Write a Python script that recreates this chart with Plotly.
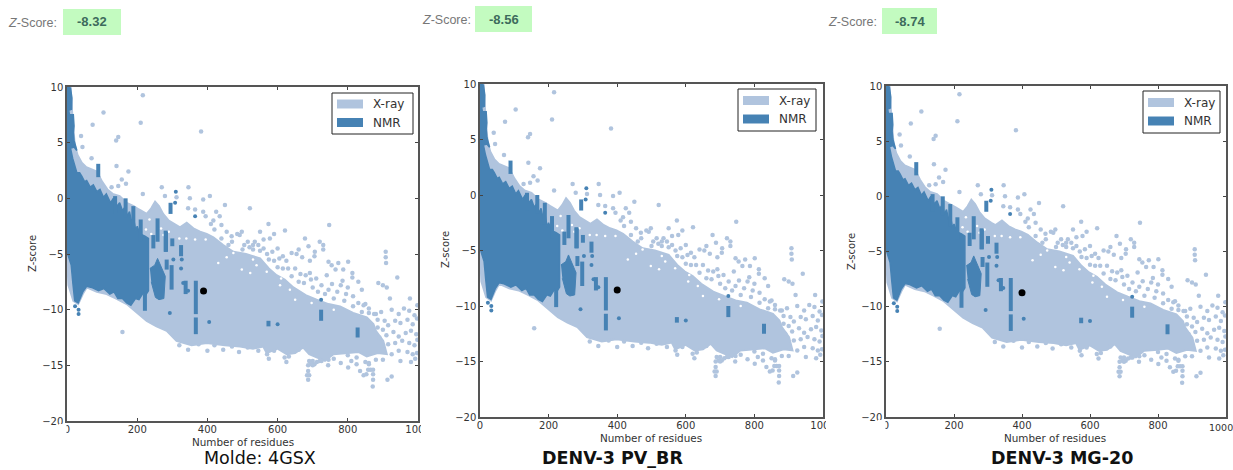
import plotly.graph_objects as go

# ---------- data ----------
XRAY_CLOUD_X = [0, 10, 14, 18, 22, 30, 42, 55, 70, 85, 100, 115, 130, 150, 170, 190, 205, 227, 240, 251, 262, 274, 290, 310,
                322, 341, 360, 379, 398, 417, 445, 474, 510, 550, 575, 597, 620, 645, 680, 711, 745, 778, 815, 854, 873,
                880, 901, 911, 885, 854, 830, 800, 759, 735, 711, 690, 673, 650, 626, 600, 569, 559, 530, 493, 450, 398, 355, 312, 284,
                255, 227, 200, 170, 140, 113, 85, 56, 45, 32, 18, 4, 0]
XRAY_CLOUD_Z = [10, 10, 8, 6, 4.8, 3.9, 3.2, 2.8, 2.6, 2.4, 1.5, 0.8, 0.4, 0.2, -0.4, -0.7, -1.0, -1.4, -0.9, -0.3, -0.7, -1.4, -2.0, -2.4,
                -2.6, -2.2, -2.7, -3.0, -3.2, -3.5, -4.2, -4.8, -5.0, -5.4, -6.3, -6.9, -7.3, -8.0, -8.7, -9.1, -9.5, -9.7, -10.3, -10.7, -11.3,
                -11.9, -12.8, -14.0, -13.9, -14.2, -13.8, -13.9, -14.0, -14.6, -14.3, -14.0, -13.4, -13.9, -14.0, -13.5, -13.9, -13.3, -13.5, -13.3, -13.2, -13.0, -13.2, -12.8, -11.9,
                -11.5, -11.0, -10.3, -9.5, -9.0, -8.6, -8.4, -8.0, -8.6, -9.5, -9.2, -7.8, -5]

NMR_CLOUD_X = [0, 10, 14, 13, 5, 7, 18, 20, 18, 20, 28, 20, 10, 16, 28, 36, 42, 50, 56, 66, 75, 85, 94, 104, 112, 124, 132, 142, 150, 158, 165, 172, 178, 184, 189, 196, 200, 208, 222, 232, 232, 224, 217, 205, 195, 182, 170, 158, 145, 134, 122, 105, 90, 70, 56, 45, 32, 22, 17, 12, 0]
NMR_CLOUD_Z = [10, 9.9, 9, 8, 7.9, 7.5, 7.5, 6.5, 5.9, 5.2, 4.3, 4.6, 4.5, 3.6, 2.3, 2.3, 2.0, 1.5, 1.6, 1.0, 1.2, 0.6, 0.8, 0.1, 0.4, -0.4, 0.0, -0.7, -0.4, -1.1, -0.8, -1.6, -1.2, -2.1, -1.7, -2.9, -2.5, -3.2, -3.4, -3.6, -8.3, -8.7, -8.5, -9.1, -9.0, -9.6, -9.4, -9.0, -9.0, -8.4, -8.6, -8.1, -8.3, -8.0, -7.9, -8.4, -9.4, -9.2, -7.7, -6, -4.8]

XRAY_POINTS_X = [216, 104, 73, 210, 382, 146, 140, 40, 44, 70, 141, 175, 156, 146, 127, 168, 270, 346, 216, 279, 407, 388, 350, 312, 450, 521,
                 345, 365, 388, 395, 425, 435, 417, 410, 420, 574, 621, 747, 498, 492, 550, 578, 590, 678, 720, 469, 485, 440, 455, 530, 535, 560,
                 908, 908, 909, 887, 900, 911, 941, 830, 813, 813, 773, 754, 801, 730, 730, 706, 688, 692, 654, 670, 692, 740, 787, 920, 977,
                 660, 640, 615, 600, 705, 745, 765, 785, 800, 840, 850,
                 880, 895, 905, 925, 945, 960, 975, 990, 998, 885, 900, 915, 935, 950, 970, 985, 997, 890, 910, 930, 945, 965, 980, 995, 915, 935, 955, 975, 990, 998, 925, 945, 970, 985, 997, 950, 980, 992,
                 687, 687, 687, 684, 690, 872, 872, 871, 865, 872, 835, 845, 853, 913, 925, 801, 825, 744, 810, 860, 858, 700, 695, 705, 720, 158,
                 320, 345, 375, 400, 420, 445, 470, 490, 515, 545, 570, 575, 590, 620, 625, 632, 660, 690, 700, 712, 725, 745, 760, 780, 800, 825, 850, 860, 880, 900,
                 440, 460, 470, 500, 520, 550, 575, 600, 615, 640, 660, 675, 700, 715, 735, 760, 790, 815, 840, 860,
                 505, 515, 530, 545, 560, 570, 585, 590, 605, 625, 630, 650, 665, 680, 695, 710, 725, 745, 755, 770, 780, 795, 815, 830, 845, 860, 875, 885]
XRAY_POINTS_Z = [9.25, 7.7, 6.6, 6.8, 6.0, 5.5, 5.2, 5.6, 4.6, 3.6, 2.9, 2.4, 1.7, 1.1, 1.0, 1.3, 1.0, 1.0, 0.4, 0.2, 0.2, -0.1, 0, 0.1, -0.6, -0.9,
                 -0.9, -1.0, -1.2, -1.6, -1.2, -1.6, -2.0, -2.3, -2.8, -2.3, -2.9, -2.4, -3.0, -3.3, -3.0, -3.6, -3.2, -3.6, -3.9, -3.4, -3.2, -2.4, -3.0, -4.2, -3.9, -3.7,
                 -4.8, -5.3, -5.8, -7.6, -7.8, -8.0, -7.1, -7.5, -6.7, -7.1, -5.8, -6.0, -5.7, -4.2, -4.6, -4.8, -4.3, -6.7, -5.0, -5.3, -5.6, -6.9, -6.4, -9.0, -9.0,
                 -4.6, -4.9, -5.2, -4.5, -5.2, -5.7, -6.4, -7.4, -8.0, -8.2, -9.5,
                 -10.4, -10.2, -11.0, -10.0, -10.4, -9.9, -10.1, -10.5, -9.6, -11.6, -11.8, -11.4, -11.0, -11.2, -10.9, -11.3, -10.8, -12.5, -12.3, -12.0, -12.4, -12.1, -11.9, -12.2, -13.1, -13.0, -12.8, -13.0, -13.2, -12.7, -14.0, -13.7, -13.8, -14.0, -13.9, -14.6, -14.7, -14.4,
                 -15.0, -15.5, -16.3, -15.9, -15.9, -15.8, -16.3, -16.9, -15.4, -15.4, -15.5, -15.9, -15.8, -16.3, -16.0, -15.2, -14.9, -15.0, -14.6, -14.9, -15.4, -14.6, -14.9, -14.9, -14.6, -12.0,
                 -13.2, -13.6, -13.1, -13.7, -13.2, -13.6, -13.3, -13.8, -13.4, -13.7, -14.0, -14.4, -13.7, -14.3, -14.7, -14.2, -13.6, -14.6, -15.0, -14.7, -14.6, -14.5, -14.4, -14.8, -14.1, -14.3, -14.7, -14.8, -14.5, -14.5,
                 -3.6, -4.2, -3.9, -4.6, -4.4, -4.7, -5.5, -6.2, -6.3, -7.0, -7.5, -7.6, -8.0, -8.4, -8.6, -9.0, -9.2, -9.7, -10.2, -10.3,
                 -4.2, -3.9, -4.6, -4.2, -4.5, -5.0, -4.8, -5.6, -5.4, -5.6, -6.3, -6.3, -6.8, -6.9, -7.3, -7.2, -7.8, -8.2, -7.7, -8.4, -7.8, -8.6, -8.8, -9.4, -9.6, -9.9, -10.4, -10.9]

HOLES_X = [225, 240, 268, 275, 235, 290, 320, 340, 365, 395, 431, 474, 498, 522, 540, 569, 607, 635, 650, 697, 455, 530, 610, 760]
HOLES_Z = [-2.8, -3.2, -2.7, -3.3, -1.9, -3.0, -3.6, -3.6, -3.7, -3.7, -5.8, -4.9, -6.4, -6.7, -6.0, -6.6, -7.8, -8.2, -9.1, -9.4, -5.3, -5.5, -7.2, -10.0]

NMR_COLUMN_X = [89, 137, 167, 189, 210, 258, 295, 281, 246, 282, 300, 325, 284, 298, 222, 367, 367, 574, 724, 828, 338]
NMR_COLUMN_LO = [1.9, -1.4, -1.7, -2.7, -3.9, -3.9, -1.4, -4.8, -4.5, -4.8, -4.3, -5.2, -6.4, -8.2, -10.1, -10.4, -12.2, -11.5, -11.0, -12.5, -8.6]
NMR_COLUMN_HI = [3.1, 0.2, 0.0, -0.7, -1.9, -1.8, -0.4, -2.9, -3.3, -3.0, -3.6, -4.2, -5.5, -6.0, -8.6, -7.4, -10.7, -11.0, -10.0, -11.6, -7.4]
NMR_BLOCK_X = [236, 250, 258, 272, 280, 276, 262, 252, 240]
NMR_BLOCK_Z = [-6.3, -6.0, -5.4, -6.4, -7.0, -9.0, -9.1, -8.9, -7.5]
NMR_POINTS_X = [310, 308, 365, 303, 327, 325, 293, 405, 600, 724, 23, 33, 33, 345, 331]
NMR_POINTS_Z = [0.6, -0.4, -1.6, -5.5, -5.5, -6.3, -10.3, -11.1, -11.3, -9.1, -9.7, -10.0, -10.4, -8.3, -7.6]

QUERY_X = [389, 400, 400]
QUERY_Z = [-8.32, -8.56, -8.74]
SCORE_TEXT = ["-8.32", "-8.56", "-8.74"]
CAPTIONS = ["Molde: 4GSX", "DENV-3 PV_BR", "DENV-3 MG-20"]
LEGEND_NAMES = ["X-ray", "NMR"]
X_TICKS = [0, 200, 400, 600, 800, 1000]
Y_TICKS = [-20, -15, -10, -5, 0, 5, 10]

# ---------- layout in pixels ----------
W, H = 1233, 470
PANELS = [(67, 418, 87, 421), (480, 823, 84, 417), (886, 1226, 86, 417)]
CHIPS = [(63, 121, 9, 35), (475, 532, 6, 32), (882, 937, 8, 34)]
CHIP_LABEL_X = [59, 473, 879]
CHIP_LABEL_Y = [23, 20, 22]
CAPTION_X = [260, 612, 1062]
XLABEL_POS = [(243, 442), (651, 438), (1055, 438)]
YLABEL_POS = [(32, 254), (445, 250), (851, 252)]
LEGEND_BOX = [(332, 413, 93, 134), (738, 816, 89, 131), (1143, 1220, 91, 133)]
XRAY, NMR = "#b0c4de", "#4682b4"
TEXT = "#333"

def px(x): return x / W
def py(y): return 1 - y / H

fig = go.Figure()
shapes, notes = [], []

def note(x, y, text, size, color=TEXT, family="DejaVu Sans", xanchor="center", angle=0):
    notes.append(dict(x=px(x), y=py(y), xref="paper", yref="paper", text=text, showarrow=False, xanchor=xanchor,
                      yanchor="middle", textangle=angle, font=dict(family=family, size=size, color=color)))

def rect(x0, x1, y0, y1, fill, line=None, layer="above"):
    shapes.append(dict(type="rect", xref="paper", yref="paper", x0=px(x0), x1=px(x1), y0=py(y1), y1=py(y0),
                       fillcolor=fill, line=line or dict(width=0), layer=layer))

col_x, col_z = [], []
for x, lo, hi in zip(NMR_COLUMN_X, NMR_COLUMN_LO, NMR_COLUMN_HI):
    col_x += [x, x, None]
    col_z += [lo, hi, None]

for i, (l, r, t, b) in enumerate(PANELS):
    n = "" if i == 0 else str(i + 1)
    xa, ya = "x" + n, "y" + n
    common = dict(xaxis=xa, yaxis=ya, showlegend=False, hoverinfo="skip")
    fig.add_trace(go.Scatter(x=XRAY_CLOUD_X, y=XRAY_CLOUD_Z, mode="lines", fill="toself", fillcolor=XRAY,
                             line=dict(color=XRAY, width=2), name="X-ray", **common))
    fig.add_trace(go.Scatter(x=XRAY_POINTS_X, y=XRAY_POINTS_Z, mode="markers", marker=dict(color=XRAY, size=4.5), name="X-ray", **common))
    fig.add_trace(go.Scatter(x=HOLES_X, y=HOLES_Z, mode="markers", marker=dict(color="white", size=2.5), **common))
    fig.add_trace(go.Scatter(x=NMR_CLOUD_X, y=NMR_CLOUD_Z, mode="lines", fill="toself", fillcolor=NMR,
                             line=dict(color=NMR, width=1.5), name="NMR", **common))
    fig.add_trace(go.Scatter(x=NMR_BLOCK_X, y=NMR_BLOCK_Z, mode="lines", fill="toself", fillcolor=NMR,
                             line=dict(color=NMR, width=1), **common))
    fig.add_trace(go.Scatter(x=col_x, y=col_z, mode="lines", line=dict(color=NMR, width=4), **common))
    fig.add_trace(go.Scatter(x=NMR_POINTS_X, y=NMR_POINTS_Z, mode="markers", marker=dict(color=NMR, size=4), **common))
    fig.add_trace(go.Scatter(x=[QUERY_X[i]], y=[QUERY_Z[i]], mode="markers", marker=dict(color="black", size=7), **common))

    axis = dict(showgrid=False, zeroline=False, mirror="allticks", ticks="inside", ticklen=3, tickwidth=1,
                tickcolor="#444", linecolor="#555", linewidth=1.5, showline=True, automargin=False,
                tickfont=dict(family="DejaVu Sans", size=10, color=TEXT))
    labels = [str(v) for v in X_TICKS]
    if i == 2:
        labels[-1] = ""   # drawn below: it would not fit the page at its own centre
        note(1221, b + 10, "1000", 9.5)
    fig.update_layout({
        "xaxis" + n: dict(axis, domain=[px(l), px(r)], range=[0, 1000], tickvals=X_TICKS, ticktext=labels, anchor=ya, ticklabelstandoff=-2),
        "yaxis" + n: dict(axis, domain=[py(b), py(t)], range=[-20, 10], tickvals=Y_TICKS, anchor=xa),
    })
    note(*XLABEL_POS[i], "Number of residues", 10.4)
    note(*YLABEL_POS[i], "Z-score", 10, angle=-90)

    # legend
    ll, lr, lt, lb = LEGEND_BOX[i]
    rect(ll, lr, lt, lb, "white", dict(color="#222", width=1))
    lm = (lt + lb) / 2
    for name, colour, yc in zip(LEGEND_NAMES, [XRAY, NMR], [lm - 9.5, lm + 9]):
        rect(ll + 5, ll + 31, yc - 4.5, yc + 4.5, colour)
        note(ll + 39, yc, name, 12, xanchor="left")

    # score chip and its label
    cl, cr, ct, cb = CHIPS[i]
    rect(cl, cr, ct, cb, "#c3fbc0", layer="below")
    note((cl + cr) / 2, (ct + cb) / 2, "<b>" + SCORE_TEXT[i] + "</b>", 13, color="#3d6b5c", family="Liberation Sans")
    note(CHIP_LABEL_X[i], CHIP_LABEL_Y[i], "<i>Z</i>-Score:", 12.5, color="#777", family="Liberation Sans", xanchor="right")
    note(CAPTION_X[i], 458, CAPTIONS[i] if i == 0 else "<b>" + CAPTIONS[i] + "</b>", 17.5 if i == 0 else 17.5, color="#111")

    # the source image crops these tick labels at its panel edge
    if i < 2:
        rect(r + 3, r + 14, b + 3, b + 14, "white")
    if i != 1:
        rect(l - 8, l - 0.5, b + 3, b + 14, "white")

fig.update_layout(width=W, height=H, margin=dict(l=0, r=0, t=0, b=0), paper_bgcolor="white", plot_bgcolor="white",
                  shapes=shapes, annotations=notes, showlegend=False)
fig.write_html("out.html", config=dict(displayModeBar=False), post_script="document.body.style.margin='0';")
